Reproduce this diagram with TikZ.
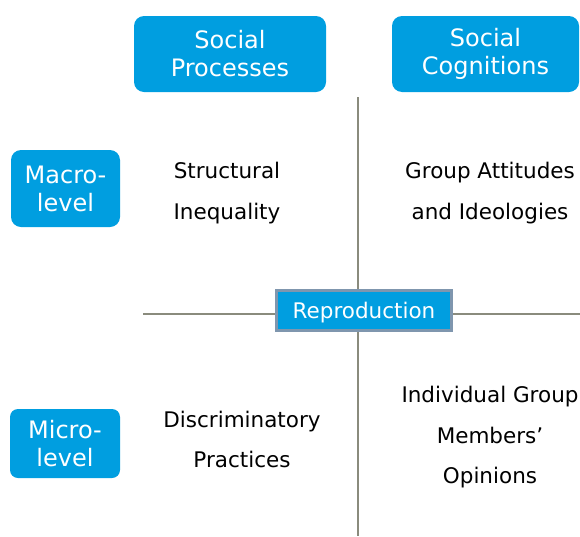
\documentclass[tikz,border=0pt]{standalone}
\usepackage{fontspec}
\setmainfont{DejaVu Sans}
\definecolor{myblue}{HTML}{009EE0}
\definecolor{myframe}{HTML}{7F96AE}
\definecolor{myaxis}{HTML}{8A8B7D}

\begin{document}
\begin{tikzpicture}[
            x=1pt, y=-1pt,
            headbox/.style={fill=myblue, text=white, rounded corners=10pt, inner sep=0pt, align=center,
                            font=\fontsize{24}{28}\selectfont},
            cell/.style={align=center, inner sep=0pt, font=\fontsize{21.5}{40.5}\selectfont},
            axis/.style={draw=myaxis, line width=2pt}
        ]

        \useasboundingbox (0,0) rectangle (580,536);

        \coordinate (vtop) at (358,97);
        \coordinate (vbot) at (358,536);
        \coordinate (hleft) at (143,314);
        \coordinate (hright) at (580,314);

        \draw[axis] (vtop) -- (vbot);
        \draw[axis] (hleft) -- (hright);

        % column and row heads
        \node[headbox, minimum width=192pt, minimum height=76pt] (proc) at (230,54) {Social\\Processes};
        \node[headbox, minimum width=187pt, minimum height=76pt] (cogn) at (485.5,54) {Social\\Cognitions};
        \node[headbox, minimum width=109pt, minimum height=77pt] (macro) at (65.5,188.5) {Macro-\\level};
        \node[headbox, minimum width=110pt, minimum height=69pt, rounded corners=8pt] (micro) at (65,443.5) {Micro-\\level};

        \node[fill=myblue, draw=myframe, line width=3pt, text=white, inner sep=0pt, text depth=0pt,
              minimum width=175pt, minimum height=40pt, font=\fontsize{21.5}{24}\selectfont] (repro) at (364,310.5) {Reproduction};

        % cells
        \node[cell] (struct) at (227,193) {Structural\\Inequality};
        \node[cell] (attit) at (490,193) {Group Attitudes\\and Ideologies};
        \node[cell] (discr) at (242,439.5) {Discriminatory\\Practices};
        \node[cell] (opin) at (490,437.5) {Individual Group\\Members’\\Opinions};
    \end{tikzpicture}
\end{document}
